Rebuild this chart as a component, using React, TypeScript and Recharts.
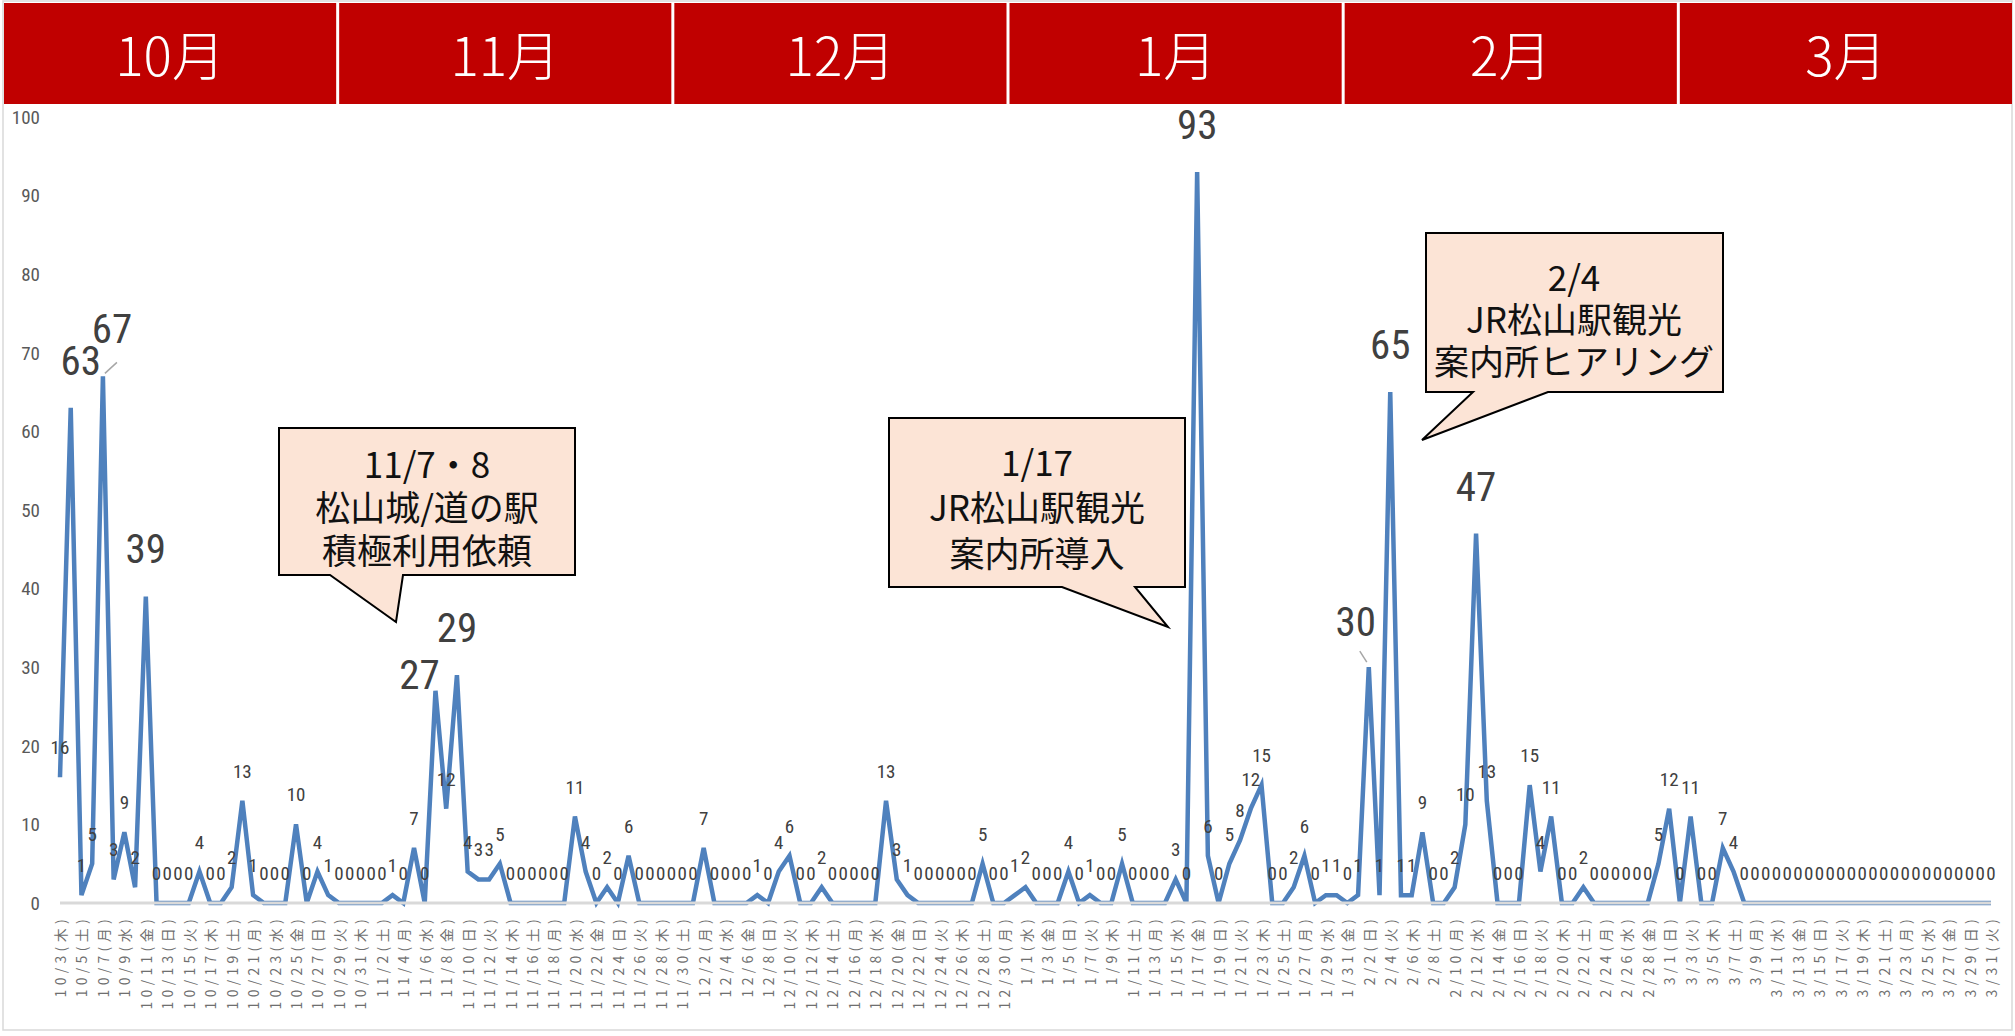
import React from 'react';
import { LineChart, Line, XAxis, YAxis } from 'recharts';

// ---------- data ----------
const MONTH_HEADERS = ['10月', '11月', '12月', '1月', '2月', '3月'];

// calendar spans covered by the chart (2019/10/3 – 2020/3/31)
const MONTH_SPANS = [
  { month: 10, first: 3, last: 31 },
  { month: 11, first: 1, last: 30 },
  { month: 12, first: 1, last: 31 },
  { month: 1, first: 1, last: 31 },
  { month: 2, first: 1, last: 29 },
  { month: 3, first: 1, last: 31 },
];
const WEEKDAY_NAMES = ['日', '月', '火', '水', '木', '金', '土'];
const FIRST_WEEKDAY = 4; // 10/3 = 木

// daily values, 10/3 ... 3/31
const visitors = [
  16, 63, 1, 5, 67, 3, 9, 2, 39, 0, // 10/3 - 10/12
  0, 0, 0, 4, 0, 0, 2, 13, 1, 0, // 10/13 - 10/22
  0, 0, 10, 0, 4, 1, 0, 0, 0, 0, // 10/23 - 11/1
  0, 1, 0, 7, 0, 27, 12, 29, 4, 3, // 11/2 - 11/11
  3, 5, 0, 0, 0, 0, 0, 0, 11, 4, // 11/12 - 11/21
  0, 2, 0, 6, 0, 0, 0, 0, 0, 0, // 11/22 - 12/1
  7, 0, 0, 0, 0, 1, 0, 4, 6, 0, // 12/2 - 12/11
  0, 2, 0, 0, 0, 0, 0, 13, 3, 1, // 12/12 - 12/21
  0, 0, 0, 0, 0, 0, 5, 0, 0, 1, // 12/22 - 12/31
  2, 0, 0, 0, 4, 0, 1, 0, 0, 5, // 1/1 - 1/10
  0, 0, 0, 0, 3, 0, 93, 6, 0, 5, // 1/11 - 1/20
  8, 12, 15, 0, 0, 2, 6, 0, 1, 1, // 1/21 - 1/30
  0, 1, 30, 1, 65, 1, 1, 9, 0, 0, // 1/31 - 2/9
  2, 10, 47, 13, 0, 0, 0, 15, 4, 11, // 2/10 - 2/19
  0, 0, 2, 0, 0, 0, 0, 0, 0, 5, // 2/20 - 2/29
  12, 0, 11, 0, 0, 7, 4, 0, 0, 0, // 3/1 - 3/10
  0, 0, 0, 0, 0, 0, 0, 0, 0, 0, // 3/11 - 3/20
  0, 0, 0, 0, 0, 0, 0, 0, 0, 0, // 3/21 - 3/30
  0, // 3/31
];

const Y_TICKS = [0, 10, 20, 30, 40, 50, 60, 70, 80, 90, 100];

const CALLOUT_TEXTS = [
  ['11/7・8', '松山城/道の駅', '積極利用依頼'],
  ['1/17', 'JR松山駅観光', '案内所導入'],
  ['2/4', 'JR松山駅観光', '案内所ヒアリング'],
];

// ---------- derived ----------
const dateLabels: string[] = [];
{
  let wd = FIRST_WEEKDAY;
  for (const s of MONTH_SPANS) {
    for (let d = s.first; d <= s.last; d++) {
      dateLabels.push(`${s.month}/${d}(${WEEKDAY_NAMES[wd]})`);
      wd = (wd + 1) % 7;
    }
  }
}
const chartData = dateLabels.map((date, i) => ({ date, value: visitors[i] }));

// ---------- styles ----------
const W = 2015;
const H = 1036;
const NARROW = "'Liberation Sans Narrow', 'Roboto Condensed', 'Liberation Sans', sans-serif";
const CJK = "'Noto Sans CJK JP', 'Noto Sans', sans-serif";
const LINE_COLOR = '#4f81bd';
const LABEL_COLOR = '#404040';
const BIG_VALUE = 20;

const BIG_LABEL_SHIFT: Record<number, { dx: number; dy: number }> = {
  1: { dx: 10, dy: 0 },
  4: { dx: 9, dy: 0 },
  35: { dx: -16, dy: 31 },
  122: { dx: -13, dy: 2 },
};
const LEADERS: Record<number, [number, number, number, number]> = {
  4: [2, -3, 14, -14],
  122: [-9, -16, -2, -5],
};

const renderLabel = (props: any) => {
  const { x, y, value, index } = props;
  if (x == null || y == null) return null;
  if (value >= BIG_VALUE) {
    const s = BIG_LABEL_SHIFT[index] || { dx: 0, dy: 0 };
    const ld = LEADERS[index];
    return (
      <g key={`lbl-${index}`}>
        {ld && (
          <line x1={x + ld[0]} y1={y + ld[1]} x2={x + ld[2]} y2={y + ld[3]} stroke="#a6a6a6" strokeWidth={1.5} />
        )}
        <text x={x + s.dx} y={y - 33 + s.dy} textAnchor="middle" fontSize={41} fill={LABEL_COLOR} fontFamily={NARROW}>
          {value}
        </text>
      </g>
    );
  }
  return (
    <text key={`lbl-${index}`} x={x} y={y - 23} textAnchor="middle" fontSize={19} fill={LABEL_COLOR} fontFamily={NARROW}>
      {value}
    </text>
  );
};

const DateTick = (props: any) => {
  const { x, y, payload } = props;
  return (
    <text
      x={x}
      y={y}
      transform={`rotate(-90, ${x}, ${y})`}
      textAnchor="end"
      dominantBaseline="central"
      fontSize={14}
      letterSpacing={4.3}
      fill="#6f6f6f"
      fontFamily={CJK}
    >
      {payload.value}
    </text>
  );
};

// header geometry
const HEADER_LEFT = 4;
const HEADER_RIGHT = 2012;
const HEADER_GAP = 3;
const HEADER_TOP = 3;
const HEADER_BOTTOM = 104;

// callout geometry (decoration)
const CALLOUTS = [
  { path: 'M279,428 H575 V575 H403 L396,622 L330,575 H279 Z', cx: 427, lines: [462, 505, 548] },
  { path: 'M889,418 H1185 V587 H1135 L1168,627 L1062,587 H889 Z', cx: 1037, lines: [460, 505, 551] },
  { path: 'M1426,233 H1723 V392 H1548 L1422,440 L1473,392 H1426 Z', cx: 1574, lines: [275, 317, 359] },
];

export default function App() {
  const hw = (HEADER_RIGHT - HEADER_LEFT - HEADER_GAP * (MONTH_HEADERS.length - 1)) / MONTH_HEADERS.length;
  return (
    <div style={{ position: 'absolute', left: 0, top: 0, width: W, height: H, background: '#fff', overflow: 'hidden' }}>
      <svg width={W} height={H} style={{ position: 'absolute', left: 0, top: 0 }}>
        <rect x={3} y={1} width={2009} height={1029} fill="#fff" stroke="#d9d9d9" strokeWidth={1.5} />
      </svg>
      <div style={{ position: 'absolute', left: 0, top: 0 }}>
        <LineChart width={W} height={H} data={chartData} margin={{ top: 117, right: 24, bottom: 0, left: 0 }}>
          <XAxis
            dataKey="date"
            scale="point"
            padding={{ left: 0, right: 0 }}
            interval={1}
            tickLine={false}
            tickSize={0}
            tickMargin={12}
            axisLine={{ stroke: '#d9d9d9', strokeWidth: 3 }}
            height={133}
            tick={<DateTick />}
          />
          <YAxis
            domain={[0, 100]}
            ticks={Y_TICKS}
            interval={0}
            axisLine={false}
            tickLine={false}
            tickSize={0}
            tickMargin={20}
            width={60}
            tick={{ fontSize: 19, fill: '#595959', fontFamily: NARROW }}
          />
          <Line
            type="linear"
            dataKey="value"
            stroke={LINE_COLOR}
            strokeWidth={4.5}
            dot={false}
            activeDot={false}
            isAnimationActive={false}
            label={renderLabel}
          />
        </LineChart>
      </div>
      <svg width={W} height={H} style={{ position: 'absolute', left: 0, top: 0, pointerEvents: 'none' }}>
        {MONTH_HEADERS.map((m, i) => {
          const x = HEADER_LEFT + i * (hw + HEADER_GAP);
          return (
            <g key={m}>
              <rect x={x} y={HEADER_TOP} width={hw} height={HEADER_BOTTOM - HEADER_TOP} fill="#c00000" />
              <text
                x={x + hw / 2}
                y={53}
                textAnchor="middle"
                dominantBaseline="central"
                fontSize={53}
                fontWeight={300}
                fill="#fff"
                fontFamily={CJK}
              >
                {m}
              </text>
            </g>
          );
        })}
        {CALLOUTS.map((c, i) => (
          <g key={i}>
            <path d={c.path} fill="#fce4d6" stroke="#000" strokeWidth={2} strokeLinejoin="miter" />
            {CALLOUT_TEXTS[i].map((t, j) => (
              <text
                key={j}
                x={c.cx}
                y={c.lines[j]}
                textAnchor="middle"
                dominantBaseline="central"
                fontSize={35}
                fill="#111"
                fontFamily={CJK}
              >
                {t}
              </text>
            ))}
          </g>
        ))}
      </svg>
    </div>
  );
}
